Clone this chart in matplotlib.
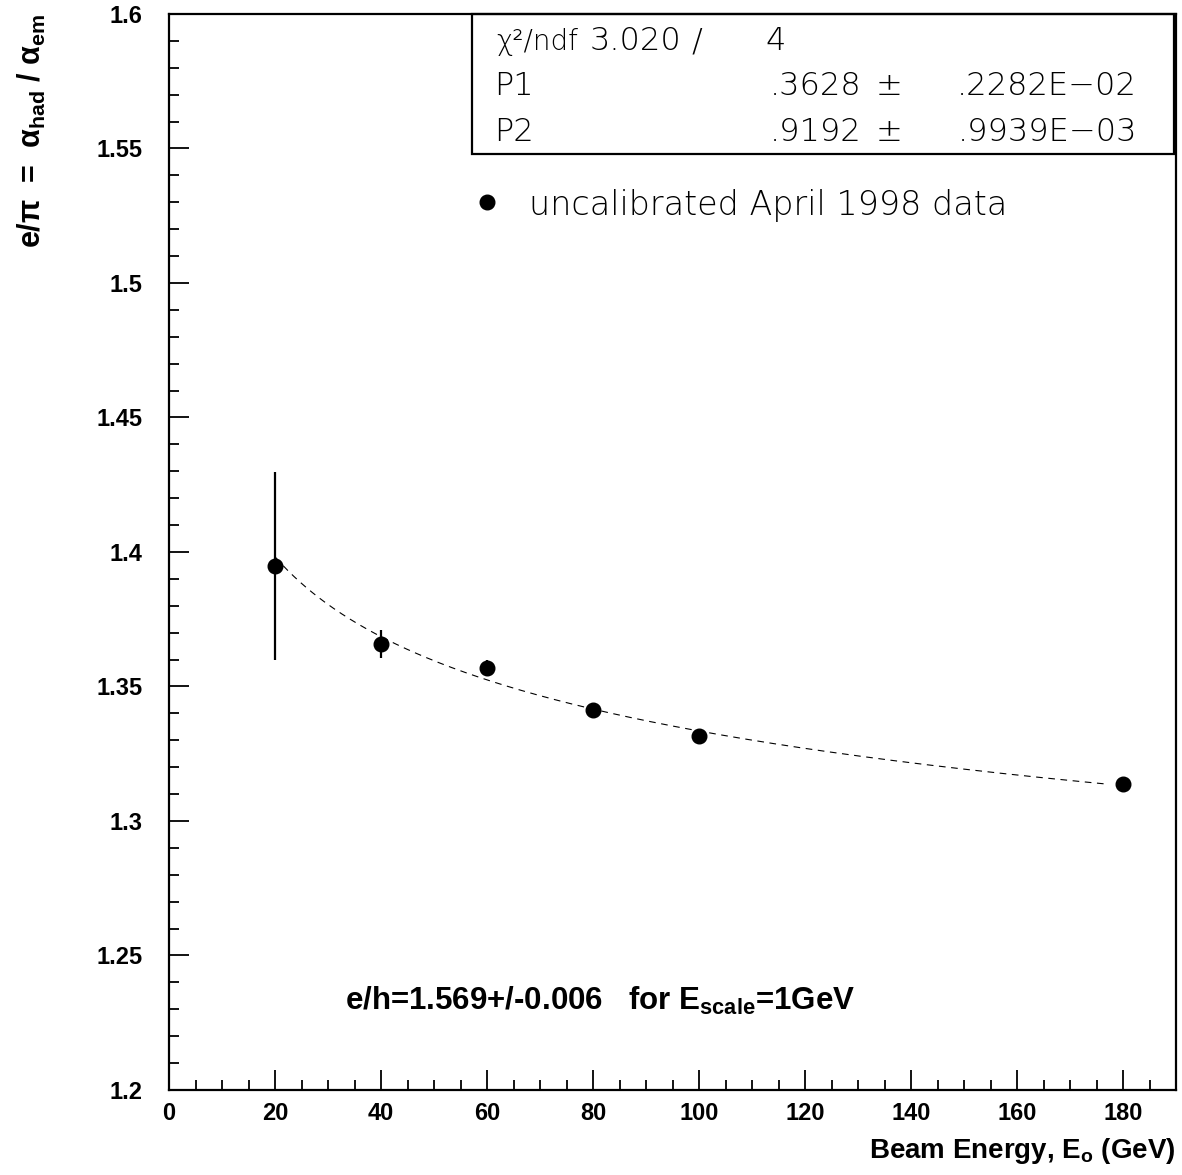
import numpy as np
import matplotlib
matplotlib.use("Agg")
import matplotlib.pyplot as plt
from matplotlib.ticker import MultipleLocator, FuncFormatter

# Beam energies (GeV) and measured e/pi with errors
energy = [20, 40, 60, 80, 100, 180]
e_pi = [1.3948, 1.3658, 1.3569, 1.3413, 1.3316, 1.3138]
e_pi_err = [0.0348, 0.0052, 0.0030, 0.0020, 0.0015, 0.0012]

# Fit parameters: e/pi = 1 / (1 - P1 * E^(P2 - 1))
p1 = 0.3628
p2 = 0.9192

plt.rcParams["font.family"] = ["Liberation Sans", "DejaVu Sans"]
plt.rcParams["mathtext.fontset"] = "custom"
plt.rcParams["mathtext.rm"] = "Liberation Sans:bold"
plt.rcParams["mathtext.bf"] = "Liberation Sans:bold"
plt.rcParams["mathtext.it"] = "Liberation Sans:bold"

W, H = 1182, 1175
fig = plt.figure(figsize=(W / 100, H / 100), dpi=100)
ax = fig.add_axes([169 / W, 85 / H, 1007 / W, 1076 / H])

ax.set_xlim(0, 190)
ax.set_ylim(1.2, 1.6)

# fitted curve
e_fit = np.linspace(min(energy), max(energy) - 3, 400)
ax.plot(e_fit, 1.0 / (1.0 - p1 * e_fit ** (p2 - 1.0)), color="black",
        lw=0.8, dashes=(6, 5), zorder=2)

# data points
ax.errorbar(energy, e_pi, yerr=e_pi_err, fmt="o", color="black",
            ms=10.5, elinewidth=1.6, capsize=0, zorder=3)

# axis styling
for s in ax.spines.values():
    s.set_linewidth(1.6)
ax.xaxis.set_major_locator(MultipleLocator(20))
ax.xaxis.set_minor_locator(MultipleLocator(5))
ax.yaxis.set_major_locator(MultipleLocator(0.05))
ax.yaxis.set_minor_locator(MultipleLocator(0.01))
ax.yaxis.set_major_formatter(FuncFormatter(lambda v, p: ("%.2f" % v).rstrip("0").rstrip(".")))
ax.tick_params(which="both", direction="in", top=False, right=False, width=1.3)
ax.tick_params(which="major", length=14.4, labelsize=17)
ax.tick_params(which="minor", length=7.2)
ax.tick_params(axis="y", which="major", pad=19)
ax.tick_params(axis="x", which="major", pad=9)
for lab in ax.get_xticklabels() + ax.get_yticklabels():
    lab.set_fontweight("bold")

ax.set_xlabel(r"Beam Energy, E$_{\mathbf{o}}$ (GeV)", fontsize=20, fontweight="bold",
              loc="right")
ax.xaxis.set_label_coords(1.0, -0.043)
ax.set_ylabel(r"e/$\pi$  =  $\alpha_{\mathbf{had}}$ / $\alpha_{\mathbf{em}}$",
              fontsize=22, fontweight="bold", loc="top")
ax.yaxis.set_label_coords(-0.12, 1.0)


def fy(py):
    return (H - py) / H


def fx(px):
    return px / W


# fit statistics box
thin = dict(family=["DejaVu Sans"], fontweight=200, fontsize=23,
            color="black", va="baseline")
box = plt.Rectangle((fx(472), fy(154)), (1174 - 472) / W, (154 - 14) / H,
                    transform=fig.transFigure, fill=False, lw=1.6, color="black")
fig.patches.append(box)

head = dict(thin)
head["fontsize"] = 20
fig.text(fx(496), fy(50), "\u03c7\u00b2/ndf", **head)
fig.text(fx(590), fy(50), "3.020", **thin)
fig.text(fx(697), fy(50), "/", ha="center", **thin)
fig.text(fx(776), fy(50), "4", ha="center", **thin)

fig.text(fx(494), fy(95), "P1", **thin)
fig.text(fx(816), fy(95), ".3628", ha="center", **thin)
fig.text(fx(889), fy(95), "\u00b1", ha="center", **thin)
fig.text(fx(1047), fy(95), ".2282E\u221202", ha="center", **thin)

fig.text(fx(494), fy(141), "P2", **thin)
fig.text(fx(816), fy(141), ".9192", ha="center", **thin)
fig.text(fx(889), fy(141), "\u00b1", ha="center", **thin)
fig.text(fx(1047), fy(141), ".9939E\u221203", ha="center", **thin)

# legend entry
fig.lines.append(matplotlib.lines.Line2D([fx(487)], [fy(202)], marker="o", ms=10.5,
                                          color="black", transform=fig.transFigure))
leg = dict(thin)
leg["fontsize"] = 24
fig.text(fx(529), fy(215), "uncalibrated April 1998 data", **leg)

# e/h annotation
ax.text((345 - 169) / 1007, 0.083, r"e/h=1.569+/-0.006   for E$_{\mathbf{scale}}$=1GeV",
        transform=ax.transAxes, fontsize=22.5, fontweight="bold", va="center")

fig.savefig("out.png", dpi=100)
